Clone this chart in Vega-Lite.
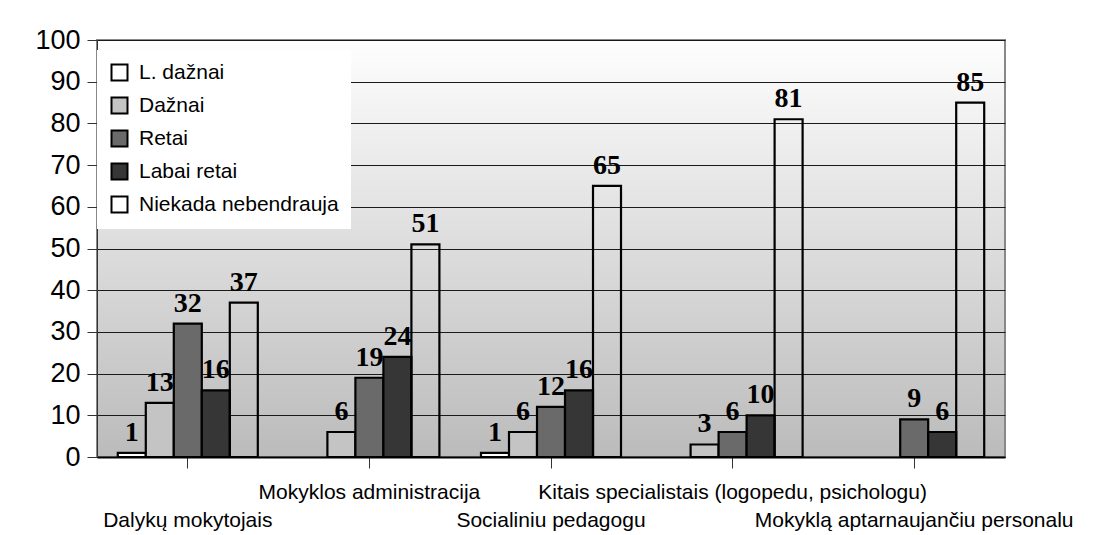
{
  "$schema": "https://vega.github.io/schema/vega-lite/v6.json",
  "width": 908,
  "height": 417,
  "autosize": {"type": "none"},
  "padding": {"left": 97, "top": 40, "right": 90, "bottom": 78},
  "background": "white",
  "config": {
    "view": {
      "fill": {"gradient": "linear", "x1": 0, "y1": 0, "x2": 0, "y2": 1,
        "stops": [{"offset": 0, "color": "#fefefe"}, {"offset": 1, "color": "#bbbbbb"}]},
      "stroke": "#888888",
      "strokeWidth": 2
    },
    "font": "Liberation Sans"
  },
  "data": {
    "values": [
      {"category": "Dalykų mokytojais", "series": "L. dažnai", "value": 1},
      {"category": "Dalykų mokytojais", "series": "Dažnai", "value": 13},
      {"category": "Dalykų mokytojais", "series": "Retai", "value": 32},
      {"category": "Dalykų mokytojais", "series": "Labai retai", "value": 16},
      {"category": "Dalykų mokytojais", "series": "Niekada nebendrauja", "value": 37},
      {"category": "Mokyklos administracija", "series": "Dažnai", "value": 6},
      {"category": "Mokyklos administracija", "series": "Retai", "value": 19},
      {"category": "Mokyklos administracija", "series": "Labai retai", "value": 24},
      {"category": "Mokyklos administracija", "series": "Niekada nebendrauja", "value": 51},
      {"category": "Socialiniu pedagogu", "series": "L. dažnai", "value": 1},
      {"category": "Socialiniu pedagogu", "series": "Dažnai", "value": 6},
      {"category": "Socialiniu pedagogu", "series": "Retai", "value": 12},
      {"category": "Socialiniu pedagogu", "series": "Labai retai", "value": 16},
      {"category": "Socialiniu pedagogu", "series": "Niekada nebendrauja", "value": 65},
      {"category": "Kitais specialistais (logopedu, psichologu)", "series": "Dažnai", "value": 3},
      {"category": "Kitais specialistais (logopedu, psichologu)", "series": "Retai", "value": 6},
      {"category": "Kitais specialistais (logopedu, psichologu)", "series": "Labai retai", "value": 10},
      {"category": "Kitais specialistais (logopedu, psichologu)", "series": "Niekada nebendrauja", "value": 81},
      {"category": "Mokyklą aptarnaujančiu personalu", "series": "Retai", "value": 9},
      {"category": "Mokyklą aptarnaujančiu personalu", "series": "Labai retai", "value": 6},
      {"category": "Mokyklą aptarnaujančiu personalu", "series": "Niekada nebendrauja", "value": 85}
    ]
  },
  "encoding": {
    "x": {
      "field": "category",
      "type": "nominal",
      "sort": ["Dalykų mokytojais", "Mokyklos administracija", "Socialiniu pedagogu", "Kitais specialistais (logopedu, psichologu)", "Mokyklą aptarnaujančiu personalu"],
      "scale": {"paddingInner": 0.229, "paddingOuter": 0.1145},
      "title": null,
      "axis": {
        "labelExpr": "datum.value == 'Mokyklos administracija' || datum.value == 'Kitais specialistais (logopedu, psichologu)' ? [datum.label] : [' ', datum.label]",
        "labelAngle": 0,
        "labelFontSize": 21,
        "labelLineHeight": 28,
        "labelPadding": 13,
        "labelColor": "black",
        "labelOverlap": false,
        "labelBound": false,
        "labelFlush": false,
        "labelLimit": 1000,
        "tickSize": 11,
        "tickColor": "#333333",
        "domainColor": "black",
        "domainWidth": 2,
        "grid": false
      }
    },
    "xOffset": {
      "field": "series",
      "type": "nominal",
      "scale": {"domain": ["L. dažnai", "Dažnai", "Retai", "Labai retai", "Niekada nebendrauja"], "paddingInner": 0, "paddingOuter": 0}
    },
    "y": {
      "field": "value",
      "type": "quantitative",
      "scale": {"domain": [0, 100]},
      "title": null,
      "axis": {
        "values": [0, 10, 20, 30, 40, 50, 60, 70, 80, 90, 100],
        "grid": true,
        "gridColor": "#1a1a1a",
        "gridWidth": 1,
        "domainColor": "#333333",
        "tickColor": "#333333",
        "tickSize": 10,
        "labelPadding": 7,
        "labelFontSize": 27,
        "labelColor": "black"
      }
    }
  },
  "layer": [
    {
      "mark": {"type": "bar", "stroke": "black", "strokeWidth": 2.2},
      "encoding": {
        "color": {
          "field": "series",
          "type": "nominal",
          "scale": {
            "domain": ["L. dažnai", "Dažnai", "Retai", "Labai retai", "Niekada nebendrauja"],
            "range": ["#ffffff", "#c4c4c4", "#6a6a6a", "#363636", "transparent"]
          },
          "legend": {
            "title": null,
            "orient": "none",
            "legendX": 0,
            "legendY": 10,
            "fillColor": "white",
            "padding": 12,
            "symbolType": "square",
            "symbolSize": 256,
            "symbolStrokeColor": "black",
            "symbolStrokeWidth": 2,
            "symbolOpacity": 1,
            "labelFontSize": 21,
            "labelColor": "black",
            "labelOffset": 9,
            "rowPadding": 8,
            "labelLimit": 400
          }
        }
      }
    },
    {
      "mark": {"type": "text", "font": "Liberation Serif", "fontWeight": "bold", "fontSize": 28, "baseline": "alphabetic", "dy": -12, "color": "black"},
      "encoding": {
        "text": {"field": "value", "type": "quantitative"}
      }
    }
  ]
}
